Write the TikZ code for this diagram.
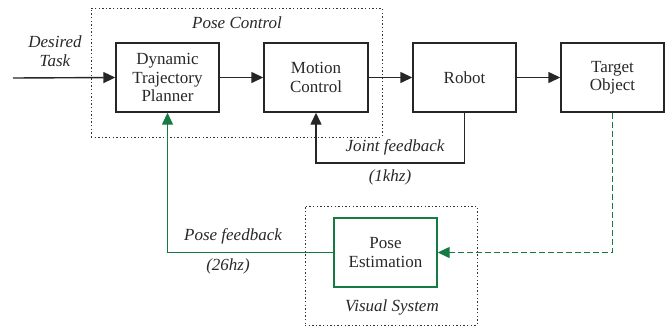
\documentclass[tikz,border=0pt]{standalone}
\usepackage{fontspec}
\setmainfont{Liberation Serif}
\usetikzlibrary{arrows.meta}
\definecolor{fbgreen}{RGB}{22,122,68}
\definecolor{txtgray}{RGB}{40,40,40}
\tikzset{
  block/.style={draw=black!85, line width=1.4pt, minimum width=103pt, minimum height=69pt, inner sep=0pt, align=center, font=\fontsize{17}{18.5}\selectfont, text=txtgray},
  groupbox/.style={draw=black!80, line width=0.9pt, dash pattern=on 1.4pt off 2.2pt, inner sep=0pt},
  lbl/.style={font=\fontsize{17}{18.5}\selectfont\itshape, text=txtgray, inner sep=0pt, align=center},
  conn/.style={line width=1.4pt, draw=black!85, -{Triangle[length=12pt,width=11pt]}},
  gconn/.style={line width=1.4pt, draw=fbgreen, -{Triangle[length=12pt,width=11pt,fill=fbgreen]}}
}
\begin{document}
\begin{tikzpicture}[x=1pt,y=-1pt]
\useasboundingbox (0,0) rectangle (667,327);
% group boxes
\node[groupbox, minimum width=291pt, minimum height=129pt] (posectrl) at (236.5,72.5) {};
\node[groupbox, minimum width=172pt, minimum height=119pt] (visual) at (391,265.5) {};
% blocks
\node[block] (planner) at (167.5,77.5) {Dynamic\\Trajectory\\Planner};
\node[block, minimum width=104pt] (motion) at (316,77.5) {Motion\\Control};
\node[block] (robot) at (464.5,77.5) {Robot};
\node[block] (target) at (612.5,77.5) {Target\\Object};
\node[block, draw=fbgreen] (poseest) at (385.5,252.5) {Pose\\Estimation};
% labels
\node[lbl] (pclbl) at (237,23) {Pose Control};
\node[lbl] (desired) at (55,51) {Desired\\Task};
\node[lbl] (jfb) at (395,147) {Joint feedback};
\node[lbl] (khz) at (390,177) {(1khz)};
\node[lbl] (pfb) at (233,236) {Pose feedback};
\node[lbl] (hz) at (228,266) {(26hz)};
\node[lbl] (vslbl) at (392,307) {Visual System};
% connectors
\coordinate (start) at (13,78);
\draw[conn] (start) -- (planner.west);
\draw[conn] (planner.east) -- (motion.west);
\draw[conn] (motion.east) -- (robot.west);
\draw[conn] (robot.east) -- (target.west);
\coordinate (jcorner) at (464.5,163);
\draw[conn] (robot.south) -- (jcorner) -| (motion.south);
\draw[gconn] (poseest.west) -| (planner.south);
\draw[gconn, dash pattern=on 6pt off 3pt] (target.south) |- (poseest.east);
\end{tikzpicture}
\end{document}
